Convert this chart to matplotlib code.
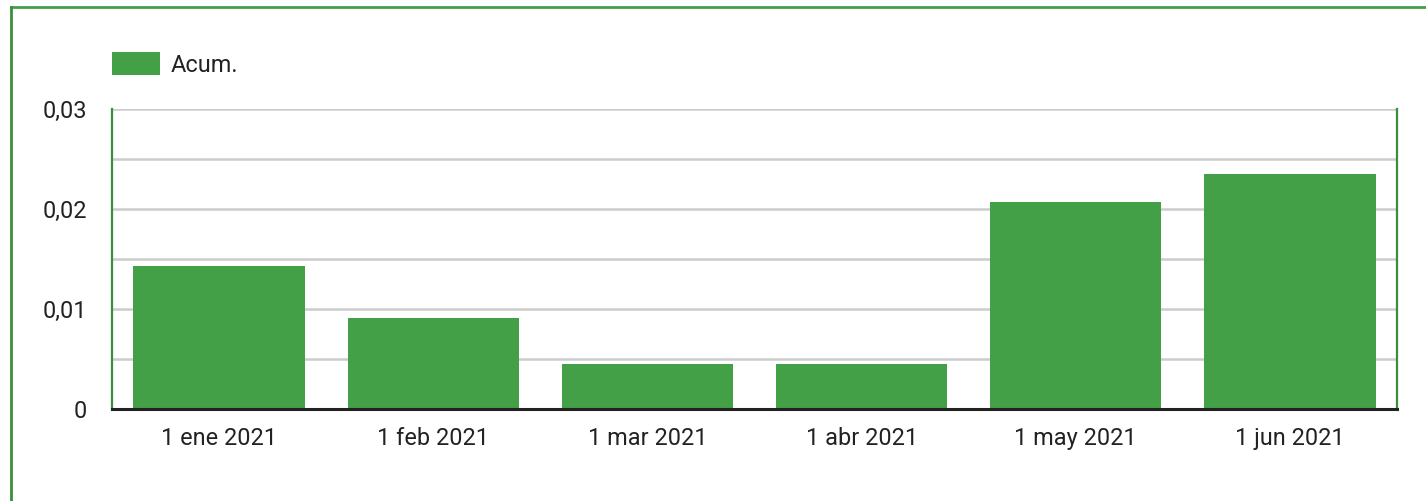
import matplotlib.pyplot as plt
from matplotlib.lines import Line2D

# data
months = ["1 ene 2021", "1 feb 2021", "1 mar 2021", "1 abr 2021", "1 may 2021", "1 jun 2021"]
acum = [0.0143, 0.0091, 0.0045, 0.0045, 0.0207, 0.0235]
major_ticks = [0, 0.01, 0.02, 0.03]
major_labels = ["0", "0,01", "0,02", "0,03"]
minor_ticks = [0.005, 0.015, 0.025]

BAR = "#43a047"
EDGE = "#388e3c"
TXT = "#222222"
W, H = 1426, 501

plt.rcParams['font.family'] = ['Roboto', 'DejaVu Sans']

fig = plt.figure(figsize=(W / 100, H / 100), dpi=100)
ax = fig.add_axes([112 / W, 1 - 409 / H, (1397 - 112) / W, 300 / H])

x = list(range(len(months)))
ax.bar(x, acum, width=0.8, color=BAR, label="Acum.", zorder=3)

ax.set_xlim(-0.5, len(months) - 0.5)
ax.set_ylim(0, 0.03)
ax.set_xticks(x)
ax.set_xticklabels(months)
ax.set_yticks(major_ticks)
ax.set_yticklabels(major_labels)
ax.set_yticks(minor_ticks, minor=True)
ax.grid(axis='y', which='both', color='#cccccc', linewidth=1.8, zorder=1)
ax.tick_params(axis='both', which='both', length=0, labelsize=16.9, colors=TXT)
ax.tick_params(axis='y', pad=18)
ax.tick_params(axis='x', pad=13)

ax.spines['top'].set_visible(False)
for side in ['left', 'right']:
    ax.spines[side].set_color(EDGE)
    ax.spines[side].set_linewidth(1.6)
ax.spines['bottom'].set_color('#222222')
ax.spines['bottom'].set_linewidth(2.2)
ax.spines['bottom'].set_zorder(4)

ax.legend(loc='center left', bbox_to_anchor=(112 / W, 1 - 64.5 / H),
          bbox_transform=fig.transFigure, frameon=False, fontsize=16.9,
          handlelength=2.05, handleheight=1.07, handletextpad=0.43,
          borderpad=0, borderaxespad=0, labelcolor=TXT)

# outer card border (top and left edges visible)
fig.add_artist(Line2D([11 / W, 1], [1 - 7 / H, 1 - 7 / H], transform=fig.transFigure,
                      color=BAR, linewidth=2))
fig.add_artist(Line2D([11 / W, 11 / W], [0, 1 - 7 / H], transform=fig.transFigure,
                      color=EDGE, linewidth=2))

fig.savefig("out.png", dpi=100)
